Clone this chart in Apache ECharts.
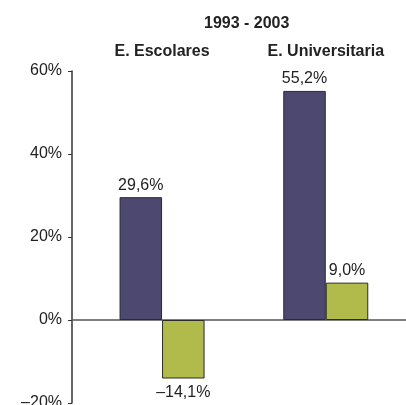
<!DOCTYPE html>
<html style="height: 100%">

<head>
    <meta charset="utf-8">
    <title>1993 - 2003</title>
    <script type="text/javascript" src="https://cdn.jsdelivr.net/npm/echarts@6/dist/echarts.min.js"></script>
</head>

<body style="height: 100%; margin: 0; background: #fff">
    <div id="container" style="width: 406px; height: 405px"></div>

    <script type="text/javascript">
        // datos
        var categories = ['E. Escolares', 'E. Universitaria'];
        var positions = [1, 2];              // posición de cada grupo en el eje x
        var blueValues = [29.6, 55.2];
        var greenValues = [-14.1, 9.0];
        var yMin = -20, yMax = 60, yStep = 20;

        // formato: 29,6% / –14,1%
        function fmt(v) {
            var s = Math.abs(v).toFixed(1).replace('.', ',') + '%';
            return v < 0 ? '\u2013' + s : s;
        }

        function buildData(values) {
            return values.map(function (v, i) {
                var item = { value: [positions[i], v] };
                if (v < 0) {
                    item.label = { position: 'bottom', distance: 6 };
                }
                return item;
            });
        }

        var dom = document.getElementById('container');
        var myChart = echarts.init(dom);

        var textFont = 'Liberation Sans, Arial, Helvetica, sans-serif';

        var option = {
            animation: false,
            title: {
                text: '1993 - 2003',
                left: 199,
                top: 11,
                textStyle: { fontFamily: textFont, fontSize: 16, fontWeight: 'bold', color: '#222' }
            },
            grid: {
                left: 72,
                right: 0,
                top: 71,
                bottom: 2,
                outerBoundsMode: 'none'
            },
            xAxis: [{
                // línea del cero
                type: 'value',
                min: 0.45,
                max: 2.49,
                axisLine: { onZero: true, lineStyle: { color: '#555', width: 1.5 } },
                axisTick: { show: false },
                axisLabel: { show: false },
                splitLine: { show: false }
            }, {
                // nombres de categorías arriba
                type: 'value',
                position: 'top',
                min: 0.45,
                max: 2.49,
                axisLine: { show: false },
                axisTick: { show: false },
                splitLine: { show: false },
                axisLabel: {
                    customValues: positions,
                    formatter: function (v) {
                        return categories[positions.indexOf(v)];
                    },
                    margin: 11,
                    fontFamily: textFont,
                    fontSize: 16,
                    fontWeight: 'bold',
                    color: '#222'
                }
            }],
            yAxis: {
                type: 'value',
                min: yMin,
                max: yMax,
                interval: yStep,
                axisLine: { show: true, lineStyle: { color: '#333', width: 1.5 } },
                axisTick: { show: true, length: 4, lineStyle: { color: '#333' } },
                splitLine: { show: false },
                axisLabel: {
                    formatter: function (v) {
                        return (v < 0 ? '\u2013' + Math.abs(v) : v) + '%';
                    },
                    margin: 10,
                    fontFamily: textFont,
                    fontSize: 16,
                    color: '#222'
                }
            },
            series: [{
                type: 'bar',
                xAxisIndex: 0,
                barWidth: 42.5,
                barGap: '0%',
                itemStyle: { color: '#4d4870', borderColor: '#2b2b2b', borderWidth: 1 },
                label: {
                    show: true,
                    position: 'top',
                    distance: 4,
                    formatter: function (p) { return fmt(p.value[1]); },
                    fontFamily: textFont,
                    fontSize: 16,
                    color: '#222'
                },
                data: buildData(blueValues)
            }, {
                type: 'bar',
                xAxisIndex: 0,
                barWidth: 42.5,
                barGap: '0%',
                itemStyle: { color: '#b0bb4c', borderColor: '#2b2b2b', borderWidth: 1 },
                label: {
                    show: true,
                    position: 'top',
                    distance: 4,
                    formatter: function (p) { return fmt(p.value[1]); },
                    fontFamily: textFont,
                    fontSize: 16,
                    color: '#222'
                },
                data: buildData(greenValues)
            }]
        };

        myChart.setOption(option);
    </script>
</body>

</html>
